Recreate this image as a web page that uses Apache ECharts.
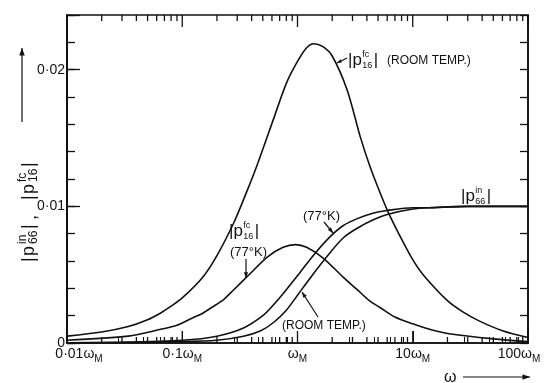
<!DOCTYPE html>
<html>
<head>
<meta charset="utf-8">
<script src="https://cdn.jsdelivr.net/npm/echarts@6/dist/echarts.min.js"></script>
<style>
  html, body { margin: 0; padding: 0; background: #fff; }
  #chart { width: 544px; height: 383px; }
</style>
</head>
<body>
<div id="chart"></div>
<script>
// |p16 fc| room temperature
const wFcRoom = [0.01, 0.02, 0.034, 0.05, 0.065, 0.08, 0.1, 0.15, 0.2, 0.28, 0.36, 0.45, 0.62, 0.8, 1.0, 1.2, 1.38, 1.65, 2.0, 2.7, 3.5, 4.3, 5.2, 6.1, 8.0, 10, 12.3, 20, 27, 38, 60, 100];
const pFcRoom = [0.0005, 0.0008, 0.0012, 0.0017, 0.0022, 0.0027, 0.0033, 0.0048, 0.0064, 0.0088, 0.0110, 0.0131, 0.0164, 0.0190, 0.0206, 0.0216, 0.0219, 0.0217, 0.0210, 0.0185, 0.0151, 0.0128, 0.0110, 0.0096, 0.0076, 0.0061, 0.0050, 0.0031, 0.0023, 0.0016, 0.0009, 0.0004];

// |p16 fc| 77 K
const wFc77 = [0.01, 0.034, 0.065, 0.09, 0.12, 0.145, 0.18, 0.23, 0.28, 0.37, 0.55, 0.75, 0.96, 1.2, 1.68, 2.5, 3.3, 4.2, 5.2, 7, 10, 14, 20, 50, 100];
const pFc77 = [0.0002, 0.0005, 0.0010, 0.0013, 0.0018, 0.0021, 0.0026, 0.0032, 0.0039, 0.0049, 0.0063, 0.0070, 0.0072, 0.0070, 0.0062, 0.0048, 0.0039, 0.0031, 0.0026, 0.0019, 0.0014, 0.0010, 0.0007, 0.0003, 0.0001];

// |p66 in| 77 K
const wIn77 = [0.01, 0.03, 0.1, 0.2, 0.34, 0.5, 0.62, 0.8, 1.06, 1.4, 1.93, 2.5, 3.3, 4.5, 6, 10, 14, 30, 100];
const pIn77 = [0.00002, 0.00005, 0.0002, 0.0005, 0.0011, 0.0020, 0.0028, 0.0039, 0.0052, 0.0065, 0.0078, 0.0086, 0.0091, 0.0095, 0.0097, 0.0099, 0.0099, 0.0100, 0.0100];

// |p66 in| room temperature
const wInRoom = [0.01, 0.1, 0.2, 0.34, 0.48, 0.62, 0.8, 1.0, 1.3, 1.83, 2.5, 3.3, 4.5, 6, 10, 14, 30, 100];
const pInRoom = [0.00001, 0.0001, 0.0002, 0.0005, 0.0009, 0.0015, 0.0024, 0.0035, 0.0048, 0.0064, 0.0077, 0.0084, 0.0090, 0.0094, 0.0098, 0.0099, 0.0100, 0.0100];

// tick labels
const xTickLabels = ['0·01ω', '0·1ω', 'ω', '10ω', '100ω'];
const yTickLabels = { 0: '0', 1: '0·01', 2: '0·02' };
const majorX = [0.01, 0.1, 1, 10, 100];
const minorMult = [2, 3, 4, 5, 6, 7, 8, 9];
const decades = [0.01, 0.1, 1, 10];

const FONT = 'Liberation Sans, Arial, sans-serif';
const INK = '#111';
const Y_MAX = 0.024;
const G = { left: 67, right: 16, top: 15, bottom: 40 };
const H = 383;

const zip = (xs, ys) => xs.map((x, i) => [x, ys[i]]);

const chart = echarts.init(document.getElementById('chart'));

function txt(x, y, text, size) {
  return {
    type: 'text', x: x, y: y, silent: true,
    style: { text: text, fontSize: size, fontFamily: FONT, fill: INK, align: 'left', verticalAlign: 'middle' }
  };
}

// "|p" with stacked superscript / subscript and a closing bar
function pLabel(x, y, sup, sub, size, small) {
  const pw = size * 0.84;
  return {
    type: 'group', x: x, y: y, silent: true,
    children: [
      txt(0, 0, '|p', size),
      txt(pw, -size * 0.33, sup, small),
      txt(pw, size * 0.3, sub, small),
      txt(pw + small * 1.15 + 1, 0, '|', size)
    ]
  };
}

function arrow(x1, y1, x2, y2, head) {
  const h = head || 6;
  const a = Math.atan2(y2 - y1, x2 - x1);
  const p1 = [x2 - h * Math.cos(a - 0.35), y2 - h * Math.sin(a - 0.35)];
  const p2 = [x2 - h * Math.cos(a + 0.35), y2 - h * Math.sin(a + 0.35)];
  return [
    { type: 'line', silent: true, shape: { x1: x1, y1: y1, x2: x2, y2: y2 }, style: { stroke: INK, lineWidth: 1.2 } },
    { type: 'polygon', silent: true, shape: { points: [[x2, y2], p1, p2] }, style: { fill: INK } }
  ];
}

const lineSeries = (name, data) => ({
  name: name,
  type: 'line',
  data: data,
  smooth: 0.3,
  symbol: 'none',
  lineStyle: { color: INK, width: 1.6 },
  z: 3
});

function yAxisCfg(pos, interval, len, labels) {
  return {
    type: 'value', min: 0, max: Y_MAX, interval: interval, position: pos,
    axisLine: { show: true, lineStyle: { color: INK, width: 1.6 } },
    axisTick: { inside: true, length: len, lineStyle: { color: INK, width: 1.3 } },
    splitLine: { show: false },
    axisLabel: labels ? {
      margin: 2, fontSize: 14, fontFamily: FONT, color: INK,
      formatter: function (v) {
        const k = Math.round(v / 0.01);
        return Math.abs(v - k * 0.01) < 1e-9 && yTickLabels[k] !== undefined ? yTickLabels[k] : '';
      }
    } : { show: false }
  };
}

const annotations = [
  // top right label
  pLabel(348, 60, 'fc', '16', 17, 9),
  txt(387, 61, '(ROOM TEMP.)', 12),
  ...arrow(347, 58, 337, 63, 5),
  // |p66 in|
  pLabel(461, 196, 'in', '66', 17, 9),
  // 77K arrow to p66
  txt(303, 216, '(77°K)', 13),
  ...arrow(324, 222, 333, 233, 6),
  // p16 fc 77K
  pLabel(229, 231, 'fc', '16', 17, 9),
  txt(230, 252, '(77°K)', 13),
  ...arrow(246, 259, 246, 278, 6),
  // room temp arrow to p66
  txt(282, 326, '(ROOM TEMP.)', 12),
  ...arrow(318, 317, 302, 292, 6),
  // y axis title, reading upwards
  {
    type: 'group', x: 29, y: 262, rotation: Math.PI / 2, silent: true,
    children: [
      txt(0, 0, '|', 18),
      txt(6, 0, 'p', 18),
      txt(18, -6, 'in', 12),
      txt(18, 5, '66', 12),
      txt(33, 0, '|', 18),
      txt(42, 2, ',', 18),
      txt(62, 0, '|', 18),
      txt(68, 0, 'p', 18),
      txt(80, -6, 'fc', 12),
      txt(80, 5, '16', 12),
      txt(95, 0, '|', 18)
    ]
  },
  ...arrow(22, 122, 22, 48, 8),
  // x axis title
  txt(444, 378, 'ω', 16),
  ...arrow(463, 377, 530, 377, 8)
];

chart.setOption({
  animation: false,
  grid: {
    left: G.left, right: G.right, top: G.top, bottom: G.bottom,
    outerBoundsMode: 'none',
    show: true, borderColor: INK, borderWidth: 1.6, backgroundColor: 'transparent'
  },
  xAxis: {
    type: 'log', logBase: 10, min: 0.01, max: 100,
    axisLine: { show: true, lineStyle: { color: INK, width: 1.6 } },
    axisTick: { inside: true, length: 12 },
    minorTick: { show: true, length: 6 },
    splitLine: { show: false },
    axisLabel: {
      margin: 4,
      rich: {
        n: { fontSize: 14, fontFamily: FONT, color: INK, verticalAlign: 'top' },
        s: { fontSize: 10, fontFamily: FONT, color: INK, verticalAlign: 'top', padding: [7, 0, 0, 0] },
        f: { width: 24, fontSize: 10 },
        g: { width: 18, fontSize: 10 }
      },
      formatter: function (v) {
        const i = Math.round(Math.log10(v)) + 2;
        const t = xTickLabels[i];
        if (t === undefined) return '';
        if (i === 0) return '{f| }{n|' + t + '}{s|M}';
        if (i === 4) return '{n|' + t + '}{s|M}{g| }';
        return '{n|' + t + '}{s|M}';
      }
    }
  },
  yAxis: [
    yAxisCfg('left', 0.002, 8, false),
    yAxisCfg('left', 0.01, 13, true),
    yAxisCfg('right', 0.002, 8, false)
  ],
  series: [
    lineSeries('|p16fc| room temp.', zip(wFcRoom, pFcRoom)),
    lineSeries('|p16fc| 77°K', zip(wFc77, pFc77)),
    lineSeries('|p66in| 77°K', zip(wIn77, pIn77)),
    lineSeries('|p66in| room temp.', zip(wInRoom, pInRoom))
  ],
  graphic: annotations
});

// frame ticks on bottom and top, x placed through the log axis scale
const yBottom = H - G.bottom;
const yTop = G.top;
const tickEls = [];
function addTick(v, len) {
  let x = chart.convertToPixel({ xAxisIndex: 0 }, v);
  if (Array.isArray(x)) x = x[0];
  if (!isFinite(x)) {
    const p = chart.convertToPixel({ gridIndex: 0 }, [v, 0]);
    x = p && p[0];
  }
  if (!isFinite(x)) return;
  tickEls.push({ type: 'line', silent: true, shape: { x1: x, y1: yBottom, x2: x, y2: yBottom - len }, style: { stroke: INK, lineWidth: 1.3 } });
  tickEls.push({ type: 'line', silent: true, shape: { x1: x, y1: yTop, x2: x, y2: yTop + len }, style: { stroke: INK, lineWidth: 1.3 } });
}
try {
  majorX.forEach(v => addTick(v, 12));
  decades.forEach(d => minorMult.forEach(m => addTick(m * d, 6)));
  chart.setOption({ graphic: annotations.concat(tickEls) });
} catch (e) {
  console.error(e);
}
</script>
</body>
</html>
